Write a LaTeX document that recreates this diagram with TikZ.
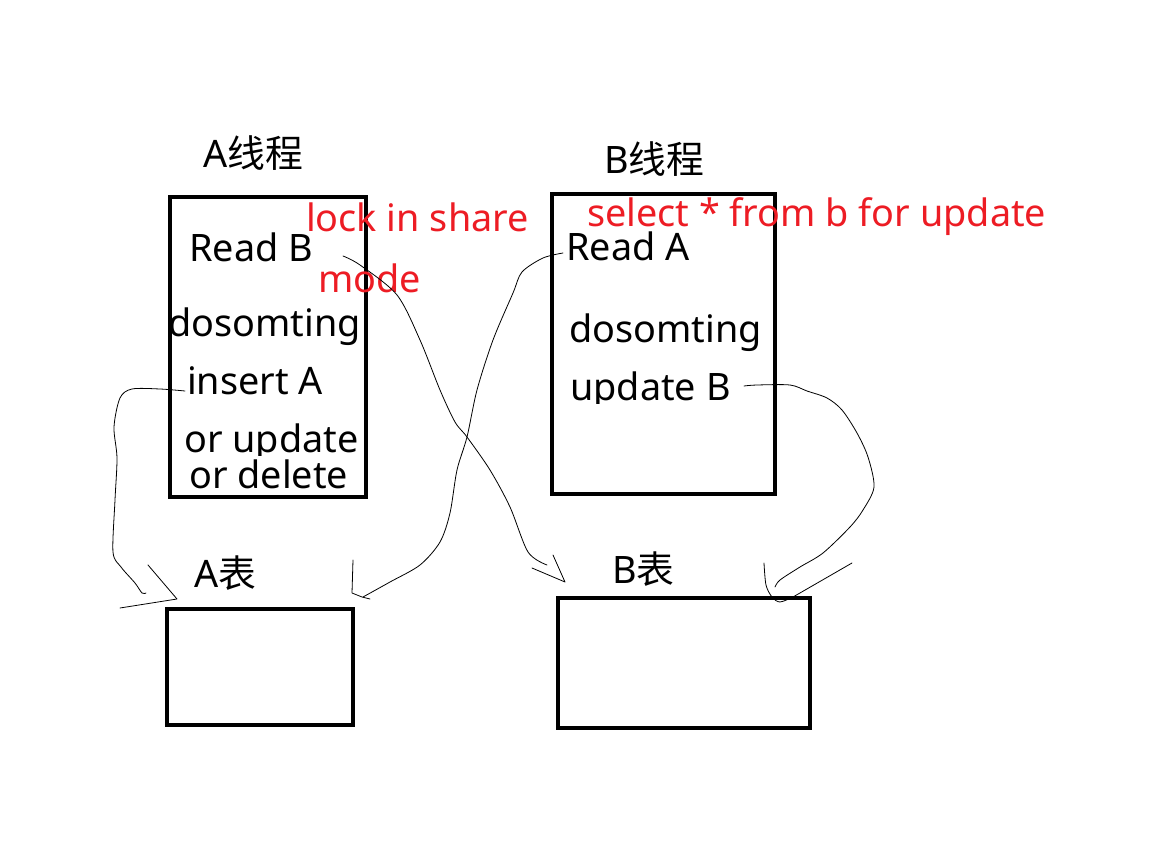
\documentclass[tikz,border=0pt]{standalone}
\usepackage{fontspec}
\setmainfont{Noto Sans}
\newfontfamily\cjk{Noto Sans CJK SC}
\definecolor{myred}{RGB}{237,28,36}
\begin{document}
\begin{tikzpicture}[x=1pt,y=-1pt,
  box/.style={draw=black,line width=4pt},
  lbl/.style={anchor=base west,inner sep=0pt,font=\fontsize{37.8}{40}\selectfont},
  rlbl/.style={lbl,text=myred},
  hand/.style={draw=black,line width=0.8pt,line join=round,line cap=round}]
\useasboundingbox (0,0) rectangle (1152,842);
\fill[white] (0,0) rectangle (1152,842);
% boxes
\draw[box] (170,197) rectangle (366,497);
\draw[box] (552,194) rectangle (775,494);
\draw[box] (167,609) rectangle (353,725);
\draw[box] (558,598) rectangle (810,728);
% titles
\node[lbl] (tA) at (203,168) {A{\cjk 线程}};
\node[lbl] (tB) at (604,174) {B{\cjk 线程}};
\node[lbl] (tAt) at (194,587) {A{\cjk 表}};
\node[lbl] (tBt) at (612,583) {B{\cjk 表}};
% A thread texts
\node[lbl] (rB) at (189,262) {Read B};
\node[lbl] (dA) at (168,337) {dosomting};
\node[lbl] (iA) at (187,395) {insert A};
\node[lbl] (oU) at (184,452) {or update};
\fill[white] (180,456) rectangle (362,470);
\node[lbl] (oD) at (189,488) {or delete};
% B thread texts
\node[lbl] (rA) at (566,261) {Read A};
\node[lbl] (dB) at (569,343) {dosomting};
\begin{scope}
\clip (560,360) rectangle (745,404);
\node[lbl] (uB) at (570,400) {update B};
\end{scope}
% red texts
\node[rlbl] (lk) at (306,232) {lock in share};
\node[rlbl] (md) at (318,293) {mode};
\node[rlbl] (sel) at (587,227) {select * from b for update};
% start coordinates
\coordinate (c1) at (185,391);
\coordinate (c2) at (343,256);
\coordinate (c3) at (563,253);
\coordinate (c4) at (744,386);
% curve 1: insert A -> A table
\draw[hand] plot[smooth,tension=0.5] coordinates {(c1) (160,389) (132,389) (120,398) (114,427) (117,458) (115,500) (113,552) (121,567) (135,583) (142,593) (146,593)};
\coordinate (t1) at (177,599);
\draw[hand] (148,565) -- (t1) -- (120,608);
% curve 2: Read B -> B table
\draw[hand] plot[smooth,tension=0.5] coordinates {(c2) (360,265) (397,295) (420,340) (440,390) (455,422) (467,437) (490,470) (510,507) (528,552) (547,565)};
\coordinate (t2) at (565,582);
\draw[hand] (553,555) -- (t2) -- (532,568);
% curve 3: Read A -> A table
\draw[hand] plot[smooth,tension=0.5] coordinates {(c3) (543,258) (522,272) (513,293) (493,340) (477,390) (467,437) (457,470) (450,513) (440,542) (420,565) (390,582) (363,597)};
\coordinate (t3) at (370,599);
\draw[hand] (353,560) -- (352,593) -- (362,597) -- (t3);
% curve 4: update B -> B table
\draw[hand] plot[smooth,tension=0.5] coordinates {(c4) (757,385) (790,385) (807,391) (827,398) (842,410) (857,433) (868,457) (874,487) (863,510) (850,527) (823,553) (800,567) (780,580) (775,587)};
\coordinate (t4) at (793,597);
\draw[hand] plot[smooth,tension=0.5] coordinates {(764,563) (766,585) (772,597) (780,602) (t4)};
\draw[hand] (t4) -- (852,563);
\end{tikzpicture}
\end{document}
